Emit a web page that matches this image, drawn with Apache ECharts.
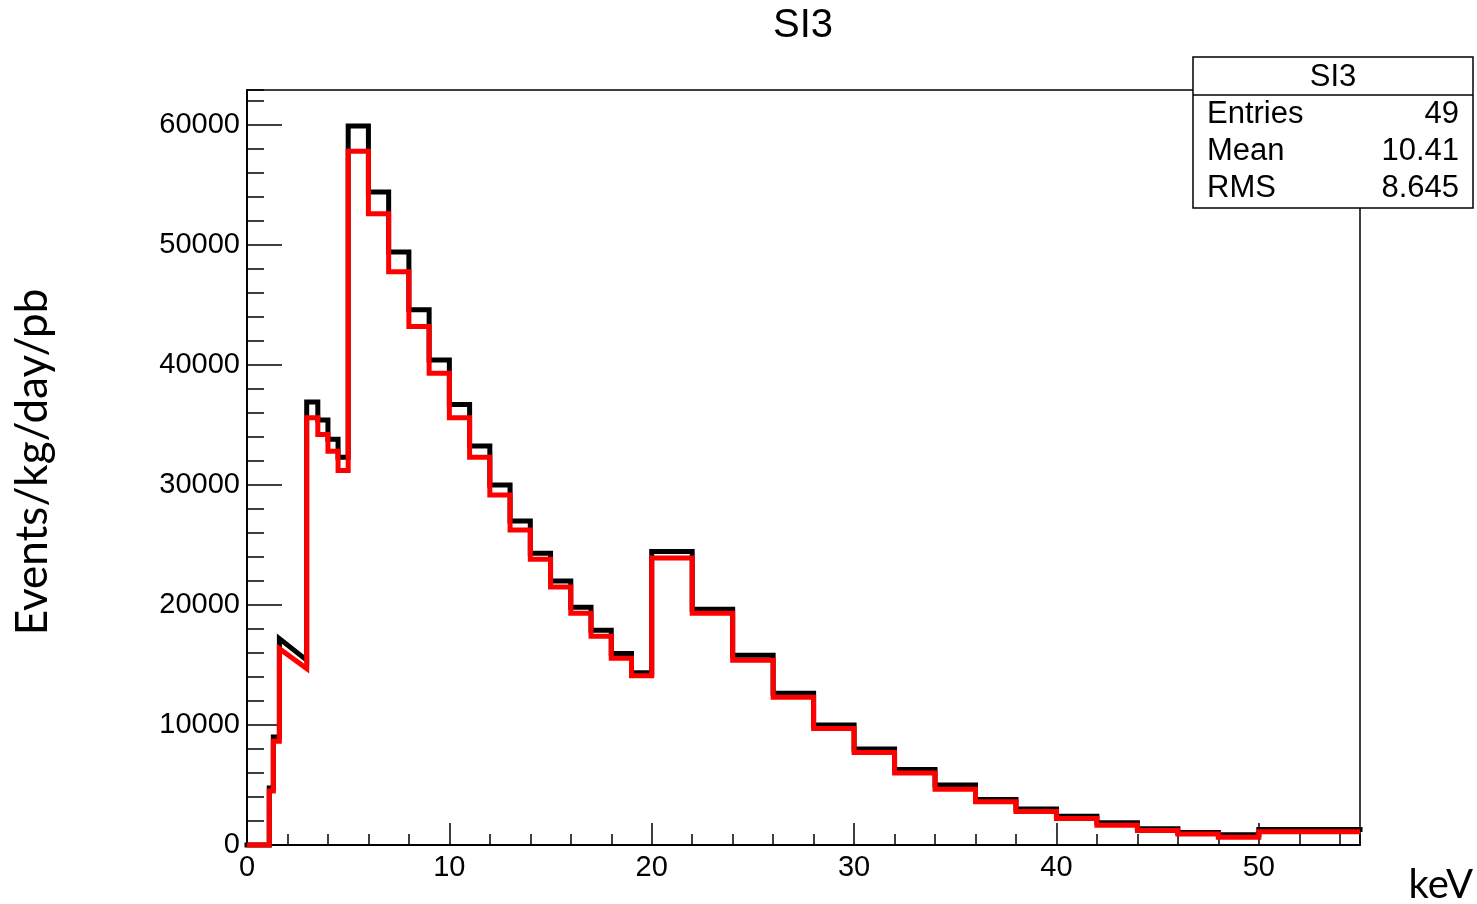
<!DOCTYPE html>
<html>
<head>
<meta charset="utf-8">
<script src="https://cdn.jsdelivr.net/npm/echarts@6/dist/echarts.min.js"></script>
<style>
html,body{margin:0;padding:0;background:#fff;}
#chart{width:1477px;height:904px;}
</style>
</head>
<body>
<div id="chart"></div>
<script>
// Bin edges (keV)
const binEdges = [0, 1.1, 1.3, 1.6, 2.95, 3.5, 4.0, 4.5, 5,
  6, 7, 8, 9, 10, 11, 12, 13, 14, 15, 16, 17, 18, 19, 20,
  22, 24, 26, 28, 30, 32, 34, 36, 38, 40, 42, 44, 46, 48, 50, 55];
// Black histogram (value at left edge of each bin)
const blackValues = [0, 4750, 9000, 17200, 36900, 35400, 33800, 32300,
  59900, 54400, 49400, 44600, 40400, 36700, 33250, 30000, 27000, 24300, 22000, 19800, 17900, 15950, 14350,
  24450, 19650, 15800, 12650, 10000, 8000, 6300, 5000, 3800, 3000, 2400, 1850, 1350, 1050, 850,
  1300];
// Red histogram
const redValues = [0, 4500, 8650, 16350, 35600, 34200, 32800, 31200,
  57800, 52600, 47750, 43200, 39300, 35600, 32300, 29150, 26250, 23800, 21500, 19300, 17400, 15550, 14100,
  23900, 19300, 15400, 12300, 9700, 7700, 6000, 4650, 3600, 2800, 2200, 1650, 1200, 920, 650,
  1100];
// The bin at index 3 is drawn as a sloped segment: value at its right edge
const slopedBinIndex = 3;
const blackSlopeEnd = 15400;
const redSlopeEnd = 14700;

const statsTitle = 'SI3';
const statsLabels = ['Entries', 'Mean', 'RMS'];
const statsValues = ['49', '10.41', '8.645'];

function stepPoints(vals, slopeEnd) {
  const pts = [];
  for (let i = 0; i < vals.length; i++) {
    const endV = (i === slopedBinIndex) ? slopeEnd : vals[i];
    pts.push([binEdges[i], vals[i]]);
    pts.push([binEdges[i + 1], endV]);
  }
  return pts;
}

const chart = echarts.init(document.getElementById('chart'));
const F = 'Liberation Sans, Arial, Helvetica, sans-serif';
const CAL = 'Lato, Carlito, Noto Sans, sans-serif';
const X0 = 247, X1 = 1360, Y0 = 90, Y1 = 845;

const baseX = {
  type: 'value', min: 0, max: 55, position: 'bottom',
  axisLine: { show: true, onZero: false, lineStyle: { color: '#000', width: 1.5 } },
  splitLine: { show: false }
};
const baseY = {
  type: 'value', min: 0, max: 62900, position: 'left',
  axisLine: { show: true, onZero: false, lineStyle: { color: '#000', width: 1.5 } },
  splitLine: { show: false }
};

const option = {
  animation: false,
  backgroundColor: '#fff',
  grid: { left: X0, right: 1477 - X1, top: Y0, bottom: 904 - Y1, show: true, borderColor: '#000', borderWidth: 1.5, backgroundColor: 'transparent' },
  xAxis: [
    Object.assign({}, baseX, {
      interval: 10,
      axisTick: { show: true, inside: true, length: 22, lineStyle: { color: '#000', width: 1.5 } },
      axisLabel: { show: true, margin: 8, color: '#000', fontFamily: F, fontSize: 29, showMaxLabel: false,
        formatter: function (v) { return String(v); } }
    }),
    Object.assign({}, baseX, {
      interval: 2,
      axisTick: { show: true, inside: true, length: 11, lineStyle: { color: '#000', width: 1.5 } },
      axisLabel: { show: false }
    })
  ],
  yAxis: [
    Object.assign({}, baseY, {
      interval: 10000,
      axisTick: { show: true, inside: true, length: 35, lineStyle: { color: '#000', width: 1.5 } },
      axisLabel: { show: true, margin: 7, color: '#000', fontFamily: F, fontSize: 29, showMaxLabel: false,
        formatter: function (v) { return String(v); } }
    }),
    Object.assign({}, baseY, {
      interval: 2000,
      axisTick: { show: true, inside: true, length: 17, lineStyle: { color: '#000', width: 1.5 } },
      axisLabel: { show: false }
    })
  ],
  series: [
    {
      type: 'line', name: 'black', xAxisIndex: 0, yAxisIndex: 0,
      data: stepPoints(blackValues, blackSlopeEnd),
      showSymbol: false, symbol: 'none', clip: false,
      lineStyle: { color: '#000', width: 5, join: 'miter', cap: 'square' },
      z: 3
    },
    {
      type: 'line', name: 'red', xAxisIndex: 0, yAxisIndex: 0,
      data: stepPoints(redValues, redSlopeEnd),
      showSymbol: false, symbol: 'none', clip: false,
      lineStyle: { color: '#ff0000', width: 5, join: 'miter', cap: 'butt' },
      z: 4
    }
  ],
  graphic: [
    { type: 'text', z: 10,
      style: { text: 'SI3', x: 803, y: 26, textAlign: 'center', textVerticalAlign: 'middle', font: '40px ' + F, fill: '#000' } },
    { type: 'rect', z: 20, shape: { x: 1193, y: 57, width: 280, height: 151 },
      style: { fill: '#fff', stroke: '#000', lineWidth: 1.5 } },
    { type: 'line', z: 21, shape: { x1: 1193, y1: 95, x2: 1473, y2: 95 },
      style: { stroke: '#000', lineWidth: 1.5 } },
    { type: 'text', z: 22, style: { text: statsTitle, x: 1333, y: 77, textAlign: 'center', textVerticalAlign: 'middle', font: '31px ' + F, fill: '#000' } },
    { type: 'text', z: 22, style: { text: statsLabels[0], x: 1207, y: 114, textAlign: 'left', textVerticalAlign: 'middle', font: '31px ' + F, fill: '#000' } },
    { type: 'text', z: 22, style: { text: statsLabels[1], x: 1207, y: 151, textAlign: 'left', textVerticalAlign: 'middle', font: '31px ' + F, fill: '#000' } },
    { type: 'text', z: 22, style: { text: statsLabels[2], x: 1207, y: 188, textAlign: 'left', textVerticalAlign: 'middle', font: '31px ' + F, fill: '#000' } },
    { type: 'text', z: 22, style: { text: statsValues[0], x: 1459, y: 114, textAlign: 'right', textVerticalAlign: 'middle', font: '31px ' + F, fill: '#000' } },
    { type: 'text', z: 22, style: { text: statsValues[1], x: 1459, y: 151, textAlign: 'right', textVerticalAlign: 'middle', font: '31px ' + F, fill: '#000' } },
    { type: 'text', z: 22, style: { text: statsValues[2], x: 1459, y: 188, textAlign: 'right', textVerticalAlign: 'middle', font: '31px ' + F, fill: '#000' } },
    { type: 'text', z: 22, x: 33, y: 462, rotation: Math.PI / 2,
      style: { text: 'Events/kg/day/pb', x: 0, y: 0, textAlign: 'center', textVerticalAlign: 'middle', font: '44px ' + CAL, fill: '#000' } },
    { type: 'text', z: 22, style: { text: 'keV', x: 1473, y: 885, textAlign: 'right', textVerticalAlign: 'middle', font: '40px ' + CAL, fill: '#000' } }
  ]
};
chart.setOption(option);
</script>
</body>
</html>
